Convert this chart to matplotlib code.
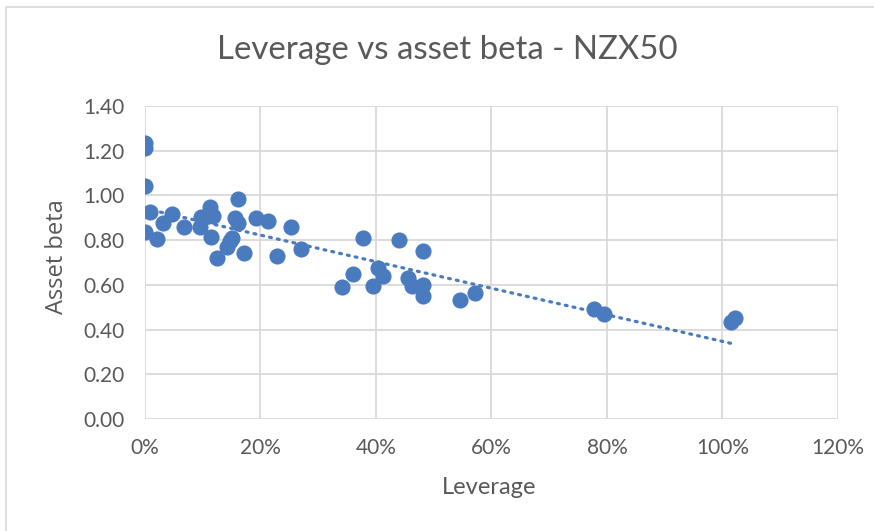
import numpy as np
import matplotlib
matplotlib.use("Agg")
import matplotlib.pyplot as plt
from matplotlib.patches import Rectangle
from matplotlib.ticker import FuncFormatter

# leverage (fraction) and asset beta
leverage = [0.0, 0.0, 0.0, 0.0, 0.0087, 0.0203, 0.0318, 0.0475, 0.067, 0.0957,
            0.0974, 0.1118, 0.1177, 0.1148, 0.1247, 0.1605, 0.1565, 0.1617, 0.1508, 0.1421,
            0.1478, 0.171, 0.193, 0.2127, 0.252, 0.228, 0.27, 0.378, 0.439, 0.482,
            0.3605, 0.3403, 0.394, 0.403, 0.412, 0.455, 0.462, 0.481, 0.481, 0.545,
            0.572, 0.777, 0.795, 1.014, 1.022]
asset_beta = [1.233, 1.211, 1.042, 0.835, 0.927, 0.805, 0.878, 0.917, 0.857, 0.861,
              0.904, 0.948, 0.908, 0.815, 0.719, 0.983, 0.901, 0.877, 0.810, 0.771,
              0.796, 0.741, 0.898, 0.887, 0.857, 0.730, 0.759, 0.808, 0.801, 0.753,
              0.649, 0.592, 0.596, 0.674, 0.640, 0.629, 0.595, 0.599, 0.550, 0.532,
              0.562, 0.492, 0.470, 0.433, 0.453]

x_ticks = [0, 0.2, 0.4, 0.6, 0.8, 1.0, 1.2]
y_ticks = [0, 0.2, 0.4, 0.6, 0.8, 1.0, 1.2, 1.4]

blue = "#4A7BBF"
grey_text = "#595959"
font = "Lato"

fig = plt.figure(figsize=(8.74, 5.31), dpi=100)
# chart border (right and bottom edges fall outside the image)
fig.patches.append(Rectangle((6 / 874, -0.1), 1.2, 1.1 - 7 / 531, transform=fig.transFigure,
                             fill=False, edgecolor="#d9d9d9", linewidth=1.2))

ax = fig.add_axes([0.1659, 0.2109, 0.7929, 0.5895])

ax.scatter(leverage, asset_beta, s=135, color=blue, zorder=3, linewidths=0)

# linear trendline across the data range
lev = np.array(leverage)
slope, intercept = np.polyfit(lev, np.array(asset_beta), 1)
xs = np.array([lev.min(), lev.max()])
ax.plot(xs, slope * xs + intercept, color=blue, linewidth=2.3,
        linestyle=(0, (0.6, 1.9)), dash_capstyle="round", zorder=2)

ax.set_xlim(0, 1.2)
ax.set_ylim(0, 1.4)
ax.set_xticks(x_ticks)
ax.set_yticks(y_ticks)
ax.xaxis.set_major_formatter(FuncFormatter(lambda v, p: f"{v*100:.0f}%"))
ax.yaxis.set_major_formatter(FuncFormatter(lambda v, p: f"{v:.2f}"))
ax.grid(True, color="#d9d9d9", linewidth=1.3)
ax.set_axisbelow(True)
for s in ax.spines.values():
    s.set_visible(False)
ax.tick_params(length=0, labelsize=15, labelcolor=grey_text)
ax.tick_params(axis="y", pad=15)
ax.tick_params(axis="x", pad=14)
for lab in ax.get_xticklabels() + ax.get_yticklabels():
    lab.set_family(font)

fig.text(0.5595, 0.081, "Leverage", ha="center", va="center",
         fontsize=17, color=grey_text, family=font)
fig.text(0.0652, 0.517, "Asset beta", ha="center", va="center", rotation=90,
         fontsize=17, color=grey_text, family="Open Sans")
fig.text(0.512, 0.906, "Leverage vs asset beta - NZX50", ha="center", va="center",
         fontsize=23.8, color=grey_text, family=font)

fig.savefig("out.png", dpi=100)
